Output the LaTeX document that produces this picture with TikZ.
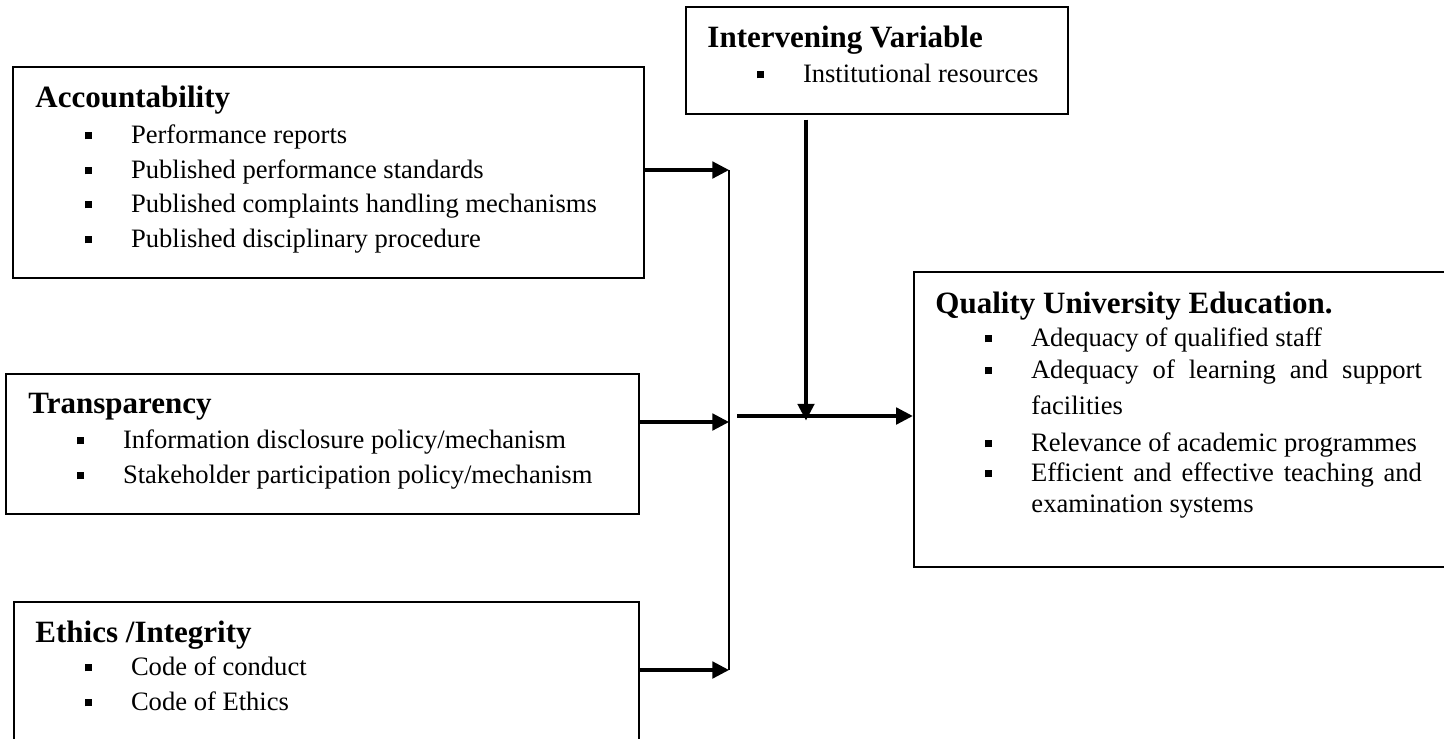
\documentclass[tikz,border=0pt]{standalone}
\usepackage{fontspec}
\setmainfont{Liberation Serif}
\usepackage{tikz}
\usetikzlibrary{arrows.meta,fit}

\newcommand{\sqbullet}{\makebox[20.8pt][l]{\rule[1.6pt]{3.2pt}{3.2pt}}}

\tikzset{
    box/.style={draw, line width=1.1pt, inner sep=0pt},
    boxhead/.style={anchor=base west, inner sep=0pt, font=\fontsize{14}{16}\selectfont\bfseries},
    entry/.style={anchor=base west, inner sep=0pt, font=\fontsize{12}{14}\selectfont},
    arr/.style={line width=1.4pt, -{Triangle[length=7.5pt,width=7.5pt]}},
}

\begin{document}
\begin{tikzpicture}[x=0.4515pt, y=-0.4515pt]
    \useasboundingbox (0,0) rectangle (1444,738);
    \clip (0,0) rectangle (1444,738);

    % boxes
    \node[box, fit={(13,67) (644,278)}] (acc) {};
    \node[box, fit={(6,374) (639,514)}] (trans) {};
    \node[box, fit={(14,602) (639,800)}] (eth) {};
    \node[box, fit={(686,7) (1068,114)}] (inter) {};
    \node[box, fit={(914,272) (1500,567)}] (qual) {};

    % accountability
    \node[boxhead] (accT) at (35,107) {Accountability};
    \node[entry] (acc1) at (84.5,143) {\sqbullet Performance reports};
    \node[entry] (acc2) at (84.5,178) {\sqbullet Published performance standards};
    \node[entry] (acc3) at (84.5,212) {\sqbullet Published complaints handling mechanisms};
    \node[entry] (acc4) at (84.5,247) {\sqbullet Published disciplinary procedure};

    % transparency
    \node[boxhead] (transT) at (28,413) {Transparency};
    \node[entry] (trans1) at (76.5,448) {\sqbullet Information disclosure policy/mechanism};
    \node[entry] (trans2) at (76.5,483) {\sqbullet Stakeholder participation policy/mechanism};

    % ethics
    \node[boxhead] (ethT) at (35,642) {Ethics /Integrity};
    \node[entry] (eth1) at (84.5,675) {\sqbullet Code of conduct};
    \node[entry] (eth2) at (84.5,710) {\sqbullet Code of Ethics};

    % intervening
    \node[boxhead] (interT) at (707,47) {Intervening Variable};
    \node[entry] (inter1) at (756.5,82) {\sqbullet Institutional resources};

    % quality
    \node[boxhead] (qualT) at (935,313) {Quality University Education.};
    \node[entry] (qual1) at (984.5,346) {\sqbullet Adequacy of qualified staff};
    \node[entry] (qual2) at (984.5,378) {\sqbullet\makebox[176.5pt][s]{Adequacy of learning and support}};
    \node[entry] (qual2b) at (1031,414) {facilities};
    \node[entry] (qual3) at (984.5,451) {\sqbullet Relevance of academic programmes};
    \node[entry] (qual4) at (984.5,481) {\sqbullet\makebox[176.5pt][s]{Efficient and effective teaching and}};
    \node[entry] (qual4b) at (1031,512) {examination systems};

    % connectors
    \coordinate (jtop) at (729,170);
    \coordinate (jmid) at (729,422);
    \coordinate (jbot) at (729,670);
    \coordinate (hubin) at (737,416);
    \coordinate (hub) at (806,416);

    \draw[line width=0.6pt] (jtop) -- (jbot);
    \draw[arr] (acc.east |- jtop) -- (jtop);
    \draw[arr] (trans.east |- jmid) -- (jmid);
    \draw[arr] (eth.east |- jbot) -- (jbot);
    \draw[arr] ([yshift=-2pt]inter.south -| hub) -- ([yshift=-2pt]hub);
    \draw[arr] (hubin) -- (qual.west |- hubin);
\end{tikzpicture}
\end{document}
